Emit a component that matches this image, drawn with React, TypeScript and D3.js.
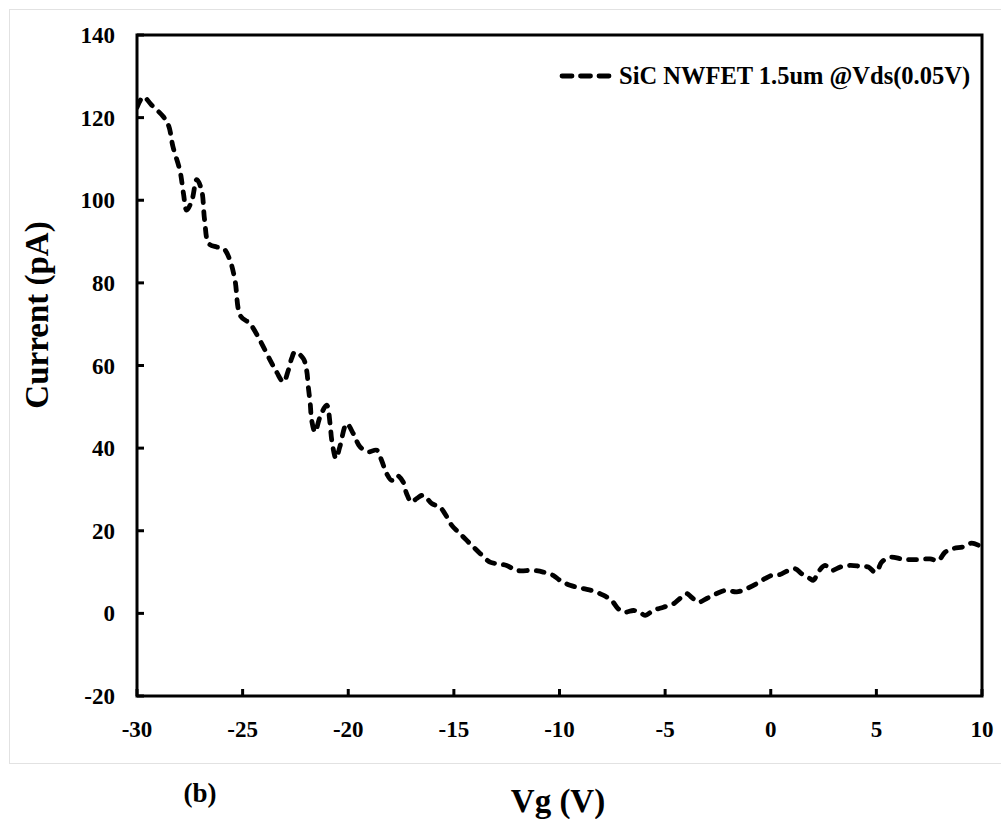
import React from "react";
import * as d3 from "d3";

const vg: number[] = [
  -30, -29.7, -29.3, -28.75, -28.5, -28.3, -27.96, -27.8, -27.65, -27.4, -27.17, -26.94, -26.8, -26.6,
  -26.23, -25.9, -25.6, -25.36, -25.1, -24.65, -24.18, -23.7, -23.39, -23.07, -22.84, -22.68, -22.52,
  -22.13, -21.97, -21.89, -21.8, -21.73, -21.57, -21.34, -21.02, -20.86, -20.78, -20.58, -20.4, -20.07,
  -19.76, -19.44, -19.05, -18.65, -18.42, -18.18, -17.94, -17.7, -17.4, -17.24, -17.0, -16.76, -16.45,
  -16.05, -15.66, -15.42, -15.1, -14.71, -14.24, -13.76, -13.29, -12.9, -12.5, -12.03, -11.24, -10.77,
  -10.3, -9.98, -9.5, -8.87, -8.4, -7.93, -7.53, -7.22, -6.9, -6.5, -6.19, -5.95, -5.56, -5.08, -4.61,
  -4.3, -3.98, -3.75, -3.43, -3.03, -2.56, -2.09, -1.62, -1.14, -0.67, -0.28, 0.04, 0.44, 0.75, 1.15,
  1.46, 1.86, 2.02, 2.25, 2.57, 2.88, 3.28, 3.75, 4.23, 4.62, 4.93, 5.09, 5.25, 5.64, 6.28, 6.91, 7.54,
  7.93, 8.25, 8.64, 9.11, 9.51, 9.98,
];
const current: number[] = [
  122.5, 125, 123, 120.2, 118, 113, 107, 101.6, 97.6, 100, 105, 102.4, 95.2, 89.5,
  88.7, 88.3, 85.5, 80.6, 72, 70.1, 66.1, 61.3, 58.4, 56, 58.8, 61.7, 63.3,
  61.7, 58.8, 54.8, 50.8, 46.7, 43.9, 47.5, 50.4, 45.9, 41.9, 37.5, 40.3, 45.9,
  43.5, 40.3, 39.1, 39.5, 37, 33.8, 32.2, 33.4, 31.8, 29, 26.9, 27.8, 28.6,
  26.6, 25.7, 24.1, 21.3, 19.3, 16.9, 14.5, 12.4, 12.0, 11.6, 10.4, 10.4, 10.0,
  9.2, 8.0, 6.8, 6.0, 5.4, 4.4, 3.1, 1.1, 0.3, 0.7, 0.3, -0.5, 0.7, 1.5, 2.3,
  3.6, 4.8, 3.9, 2.7, 3.6, 4.8, 5.6, 5.2, 6.0, 7.2, 8.4, 9.2, 9.4, 10.2, 10.8,
  9.6, 8.4, 8.0, 10.0, 11.6, 10.4, 11.2, 11.6, 11.4, 11.2, 10.0, 10.8, 12.4, 13.6, 13.1, 13.0, 13.2,
  12.8, 14.8, 15.7, 16.1, 17.0, 16.1,
];
const xTicks: number[] = [-30, -25, -20, -15, -10, -5, 0, 5, 10];
const yTicks: number[] = [-20, 0, 20, 40, 60, 80, 100, 120, 140];
const seriesName = "SiC NWFET 1.5um @Vds(0.05V)";
const xTitle = "Vg (V)";
const yTitle = "Current (pA)";
const panelLabel = "(b)";

export default function App() {
  const left = 137, right = 982, top = 35, bottom = 696;
  const x = d3.scaleLinear().domain([-30, 10]).range([left, right]);
  const y = d3.scaleLinear().domain([-20, 140]).range([bottom, top]);
  const pts: [number, number][] = vg.map((v, i) => [v, current[i]]);
  const line = d3
    .line<[number, number]>()
    .x((d) => x(d[0]))
    .y((d) => y(d[1]))
    .curve(d3.curveCatmullRom.alpha(0.5));
  const font = "'Liberation Serif', 'Times New Roman', serif";
  return (
    <svg
      width={1001}
      height={819}
      style={{ position: "absolute", left: 0, top: 0, background: "#fff" }}
      fontFamily={font}
      fontWeight="bold"
    >
      <rect x={9.5} y={9.5} width={1000} height={754} fill="none" stroke="#e2e2e2" strokeWidth={1} />
      <defs>
        <clipPath id="plotclip">
          <rect x={left} y={top} width={right - left} height={bottom - top} />
        </clipPath>
      </defs>
      <path
        d={line(pts) || ""}
        fill="none"
        stroke="#000"
        strokeWidth={4.8}
        strokeDasharray="8 9"
        strokeLinecap="round"
        strokeLinejoin="round"
        clipPath="url(#plotclip)"
      />
      <rect x={left} y={top} width={right - left} height={bottom - top} fill="none" stroke="#000" strokeWidth={3} />
      {yTicks.map((t) => (
        <g key={"y" + t}>
          <line x1={left} x2={left + 7} y1={y(t)} y2={y(t)} stroke="#000" strokeWidth={3} />
          <text x={115} y={y(t)} dy="0.35em" textAnchor="end" fontSize={23}>
            {t}
          </text>
        </g>
      ))}
      {xTicks.map((t) => (
        <g key={"x" + t}>
          <line x1={x(t)} x2={x(t)} y1={bottom} y2={bottom - 7} stroke="#000" strokeWidth={3} />
          <text x={x(t)} y={737} textAnchor="middle" fontSize={23}>
            {t}
          </text>
        </g>
      ))}
      <line x1={562} x2={613} y1={76} y2={76} stroke="#000" strokeWidth={4.8} strokeDasharray="10 8.5" strokeLinecap="round" />
      <text x={619} y={84} fontSize={24.5}>
        {seriesName}
      </text>
      <text x={558} y={812} textAnchor="middle" fontSize={33}>
        {xTitle}
      </text>
      <text transform="translate(48,315) rotate(-90)" textAnchor="middle" fontSize={33}>
        {yTitle}
      </text>
      <text x={200} y={802} textAnchor="middle" fontSize={27}>
        {panelLabel}
      </text>
    </svg>
  );
}
